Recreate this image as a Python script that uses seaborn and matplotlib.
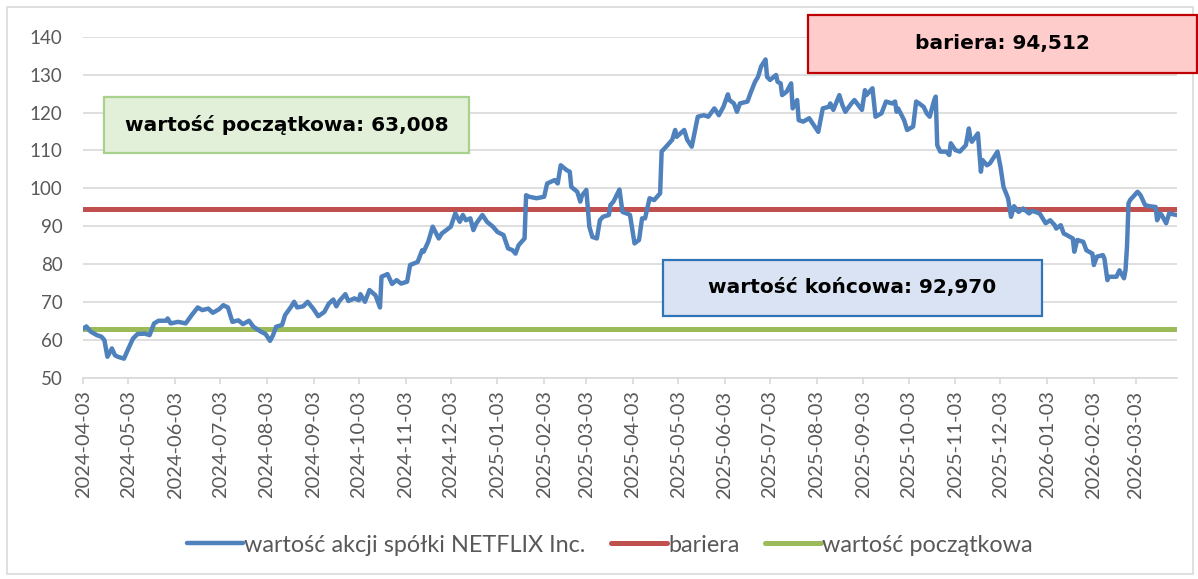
import matplotlib
matplotlib.use("Agg")
import matplotlib.pyplot as plt
import matplotlib.dates as mdates
from matplotlib.patches import Rectangle
import pandas as pd
import seaborn as sns

# --- data ---
dates = [
    "2024-04-03", "2024-04-05", "2024-04-08", "2024-04-12", "2024-04-15", "2024-04-17", "2024-04-19",
    "2024-04-22", "2024-04-24", "2024-04-26", "2024-04-30",
    "2024-05-03", "2024-05-06", "2024-05-09", "2024-05-14", "2024-05-17", "2024-05-20", "2024-05-23",
    "2024-05-28", "2024-05-29", "2024-05-31",
    "2024-06-05", "2024-06-10", "2024-06-14", "2024-06-18", "2024-06-21", "2024-06-25", "2024-06-28",
    "2024-07-02", "2024-07-05", "2024-07-08", "2024-07-11", "2024-07-15", "2024-07-18", "2024-07-22",
    "2024-07-25", "2024-07-30",
    "2024-08-02", "2024-08-05", "2024-08-07", "2024-08-09", "2024-08-13", "2024-08-15", "2024-08-19",
    "2024-08-21", "2024-08-23", "2024-08-27", "2024-08-30",
    "2024-09-03", "2024-09-06", "2024-09-10", "2024-09-13", "2024-09-16", "2024-09-18", "2024-09-20",
    "2024-09-24", "2024-09-26", "2024-09-30",
    "2024-10-03", "2024-10-04", "2024-10-07", "2024-10-10", "2024-10-14", "2024-10-17", "2024-10-18",
    "2024-10-22", "2024-10-25", "2024-10-28", "2024-10-31",
    "2024-11-04", "2024-11-06", "2024-11-11", "2024-11-14", "2024-11-15", "2024-11-18", "2024-11-21",
    "2024-11-25", "2024-11-27",
    "2024-12-03", "2024-12-06", "2024-12-09", "2024-12-11", "2024-12-13", "2024-12-16", "2024-12-18",
    "2024-12-20", "2024-12-24", "2024-12-27", "2024-12-31",
    "2025-01-03", "2025-01-07", "2025-01-10", "2025-01-13", "2025-01-15", "2025-01-17", "2025-01-21",
    "2025-01-22", "2025-01-24", "2025-01-29",
    "2025-02-03", "2025-02-05", "2025-02-10", "2025-02-12", "2025-02-14", "2025-02-18", "2025-02-20",
    "2025-02-21", "2025-02-25", "2025-02-27", "2025-02-28",
    "2025-03-03", "2025-03-05", "2025-03-07", "2025-03-10", "2025-03-12", "2025-03-14", "2025-03-18",
    "2025-03-19", "2025-03-21", "2025-03-25", "2025-03-27", "2025-03-31",
    "2025-04-01", "2025-04-04", "2025-04-07", "2025-04-09", "2025-04-11", "2025-04-14", "2025-04-17",
    "2025-04-21", "2025-04-22", "2025-04-25", "2025-04-29",
    "2025-05-01", "2025-05-02", "2025-05-07", "2025-05-09", "2025-05-12", "2025-05-16", "2025-05-20",
    "2025-05-23", "2025-05-27", "2025-05-30",
    "2025-06-02", "2025-06-05", "2025-06-06", "2025-06-09", "2025-06-11", "2025-06-13", "2025-06-18",
    "2025-06-20", "2025-06-23", "2025-06-25", "2025-06-27", "2025-06-30",
    "2025-07-01", "2025-07-03", "2025-07-07", "2025-07-08", "2025-07-10", "2025-07-11", "2025-07-14",
    "2025-07-17", "2025-07-18", "2025-07-21", "2025-07-22", "2025-07-25", "2025-07-29",
    "2025-08-01", "2025-08-04", "2025-08-07", "2025-08-11", "2025-08-12", "2025-08-14", "2025-08-18",
    "2025-08-20", "2025-08-22", "2025-08-26", "2025-08-28",
    "2025-09-02", "2025-09-04", "2025-09-05", "2025-09-09", "2025-09-11", "2025-09-15", "2025-09-18",
    "2025-09-22", "2025-09-24", "2025-09-25", "2025-09-26", "2025-09-30",
    "2025-10-02", "2025-10-06", "2025-10-08", "2025-10-10", "2025-10-13", "2025-10-15", "2025-10-17",
    "2025-10-20", "2025-10-21", "2025-10-22", "2025-10-24", "2025-10-28", "2025-10-30", "2025-10-31",
    "2025-11-03", "2025-11-06", "2025-11-10", "2025-11-12", "2025-11-13", "2025-11-14", "2025-11-18",
    "2025-11-20", "2025-11-21", "2025-11-24", "2025-11-26",
    "2025-12-01", "2025-12-03", "2025-12-05", "2025-12-08", "2025-12-10", "2025-12-12", "2025-12-15",
    "2025-12-18", "2025-12-22", "2025-12-24", "2025-12-29",
    "2026-01-02", "2026-01-05", "2026-01-08", "2026-01-09", "2026-01-12", "2026-01-14", "2026-01-16",
    "2026-01-20", "2026-01-21", "2026-01-23", "2026-01-27", "2026-01-29",
    "2026-02-02", "2026-02-03", "2026-02-05", "2026-02-09", "2026-02-10", "2026-02-12", "2026-02-13",
    "2026-02-18", "2026-02-20", "2026-02-23", "2026-02-24", "2026-02-25", "2026-02-26", "2026-02-27",
    "2026-03-04", "2026-03-06", "2026-03-09", "2026-03-12", "2026-03-16", "2026-03-17", "2026-03-19",
    "2026-03-20", "2026-03-23", "2026-03-25", "2026-03-30",
]
values = [
    63.0, 63.6, 62.2, 61.3, 60.9, 60.0, 55.6,
    57.8, 56.0, 55.6, 55.1,
    57.8, 60.4, 61.6, 61.7, 61.3, 64.4, 65.1,
    65.1, 65.7, 64.4,
    64.8, 64.4, 66.6, 68.6, 67.9, 68.3, 67.2,
    68.1, 69.2, 68.6, 64.8, 65.2, 64.2, 65.1,
    63.5, 62.2,
    61.6, 59.8, 61.3, 63.5, 64.0, 66.6, 68.8,
    70.1, 68.6, 68.9, 70.1,
    68.1, 66.3, 67.4, 69.6, 70.7, 68.9, 70.3,
    72.1, 70.3, 71.0,
    70.5, 72.1, 70.1, 73.2, 71.8, 68.6, 76.7,
    77.4, 74.8, 75.8, 74.9,
    75.4, 79.8, 80.6, 83.7, 83.3, 85.9, 89.9,
    86.8, 88.1,
    89.9, 93.4, 91.2, 93.0, 91.6, 92.1, 89.0,
    90.8, 93.0, 91.2, 89.9,
    88.5, 87.7, 84.2, 83.7, 82.8, 85.0, 86.8,
    98.2, 97.8, 97.4,
    97.8, 101.3, 102.2, 101.3, 106.1, 104.8, 104.4,
    100.4, 99.1, 96.5, 98.0,
    99.6, 89.9, 87.2, 86.8, 91.6, 92.5, 93.0,
    95.6, 96.5, 99.7, 93.8, 93.2,
    93.0, 85.5, 86.4, 92.1, 92.1, 97.4, 96.9,
    98.7, 109.7, 111.0, 112.8,
    115.4, 113.6, 115.4, 112.8, 111.0, 118.9, 119.3,
    118.9, 121.1, 119.3,
    121.5, 124.8, 123.3, 122.4, 120.2, 122.4, 122.9,
    125.1, 128.1, 129.4, 132.1, 134.0,
    129.4, 128.6, 129.9, 128.1, 127.7, 124.6, 125.5,
    127.7, 121.1, 123.3, 118.0, 117.6, 118.5,
    116.7, 114.9, 121.1, 121.5, 122.4, 120.7, 124.6,
    122.0, 120.2, 122.4, 123.3,
    120.7, 125.9, 124.6, 126.4, 118.9, 119.8, 122.9,
    122.4, 122.9, 120.2, 121.1, 118.0,
    115.4, 116.3, 122.9, 122.4, 121.5, 119.8, 118.9,
    123.3, 124.2, 111.4, 109.7, 109.7, 108.8, 111.9,
    110.1, 109.7, 111.4, 115.8, 113.2, 112.3, 114.5,
    104.4, 107.5, 106.1, 106.6,
    109.7, 105.7, 100.4, 97.4, 92.5, 95.3, 93.8,
    94.7, 93.4, 94.1, 93.4,
    90.8, 91.6, 90.3, 89.4, 90.3, 88.1, 87.7,
    86.8, 83.3, 86.4, 85.9, 83.7,
    82.8, 79.8, 82.0, 82.4, 81.5, 75.8, 76.7,
    76.7, 78.4, 76.3, 78.4, 84.6, 96.0, 96.9,
    99.1, 98.2, 95.6, 95.3, 95.1, 91.6, 93.4,
    93.0, 90.8, 93.4, 92.97,
]
barrier = 94.512
initial = 63.008
final = 92.970

series_labels = ["wartość akcji spółki NETFLIX Inc.", "bariera", "wartość początkowa"]
box_labels = [f"wartość początkowa: {initial:.3f}".replace(".", ","),
              f"bariera: {barrier:.3f}".replace(".", ","),
              f"wartość końcowa: {final:.3f}".replace(".", ",")]

df = pd.DataFrame({"date": pd.to_datetime(dates), "value": values})
ends = pd.to_datetime([dates[0], dates[-1]])

# --- style ---
sns.set_theme(style="white")
plt.rcParams["font.family"] = ["Lato", "DejaVu Sans"]

W, H = 1198, 579
fig = plt.figure(figsize=(W / 100, H / 100), dpi=100)


def px_box(x0, y0, x1, y1):
    # pixel box (top-left origin) -> figure fraction [left, bottom, width, height]
    return [x0 / W, 1 - y1 / H, (x1 - x0) / W, (y1 - y0) / H]


ax = fig.add_axes(px_box(83.3, 36.7, 1176.7, 378))

BLUE, RED, GREEN = "#4F81BD", "#C0504D", "#9BBB59"
GRAY_TXT = "#595959"
GRID = "#D9D9D9"

sns.lineplot(data=df, x="date", y="value", ax=ax, color=BLUE, linewidth=3.2,
             label=series_labels[0], solid_capstyle="round", zorder=3)
sns.lineplot(x=ends, y=[barrier, barrier], ax=ax, color=RED, linewidth=3.6,
             label=series_labels[1], solid_capstyle="round", zorder=2)
sns.lineplot(x=ends, y=[initial, initial], ax=ax, color=GREEN, linewidth=3.6,
             label=series_labels[2], solid_capstyle="round", zorder=2)

ax.set_ylim(50, 140)
ax.set_yticks(range(50, 141, 10))
ax.set_xlim(ends[0], ends[1])
ax.xaxis.set_major_locator(mdates.MonthLocator(bymonthday=3))
ax.xaxis.set_major_formatter(mdates.DateFormatter("%Y-%m-%d"))
ax.set_xlabel("")
ax.set_ylabel("")

ax.grid(axis="y", color=GRID, linewidth=1.2)
ax.set_axisbelow(True)
for side in ["top", "right", "left"]:
    ax.spines[side].set_visible(False)
ax.spines["bottom"].set_color(GRID)
ax.spines["bottom"].set_linewidth(1.2)

ax.tick_params(axis="y", length=0, pad=15, labelsize=13.5, labelcolor=GRAY_TXT)
ax.tick_params(axis="x", bottom=True, direction="out", length=4, width=1.2, color=GRID,
               pad=5, labelsize=14.4, labelcolor=GRAY_TXT, labelrotation=90)

# legend at the bottom
handles, labels = ax.get_legend_handles_labels()
ax.get_legend().remove()
leg = fig.legend(handles, labels, loc="center", bbox_to_anchor=(0.509, 1 - 545 / H), ncol=3,
                 frameon=False, fontsize=16.8, handlelength=2.4, handletextpad=0.05,
                 columnspacing=1.1)
for t in leg.get_texts():
    t.set_color(GRAY_TXT)

# outer chart border
fig.add_artist(Rectangle((7 / W, 1 - 574 / H), 1186 / W, 567 / H, transform=fig.transFigure,
                         fill=False, edgecolor=GRID, linewidth=1.2, zorder=0))

# annotation boxes
boxes = [
    ((104, 97, 469, 153), "#E2F0D9", "#A9D18E"),
    ((808, 15, 1197, 73), "#FFCCCC", "#C00000"),
    ((663, 260, 1042, 316), "#DAE3F3", "#2E75B6"),
]
for (x0, y0, x1, y1), fc, ec in boxes:
    l, b, w, h = px_box(x0, y0, x1, y1)
    fig.add_artist(Rectangle((l, b), w, h, transform=fig.transFigure, facecolor=fc,
                             edgecolor=ec, linewidth=1.6, zorder=5))
for ((x0, y0, x1, y1), _, _), txt in zip(boxes, box_labels):
    fig.text((x0 + x1) / 2 / W, 1 - (y0 + y1) / 2 / H, txt, ha="center", va="center",
             fontsize=14.5, fontweight="bold", family="DejaVu Sans", color="black", zorder=6)

fig.savefig("out.png", dpi=100)
